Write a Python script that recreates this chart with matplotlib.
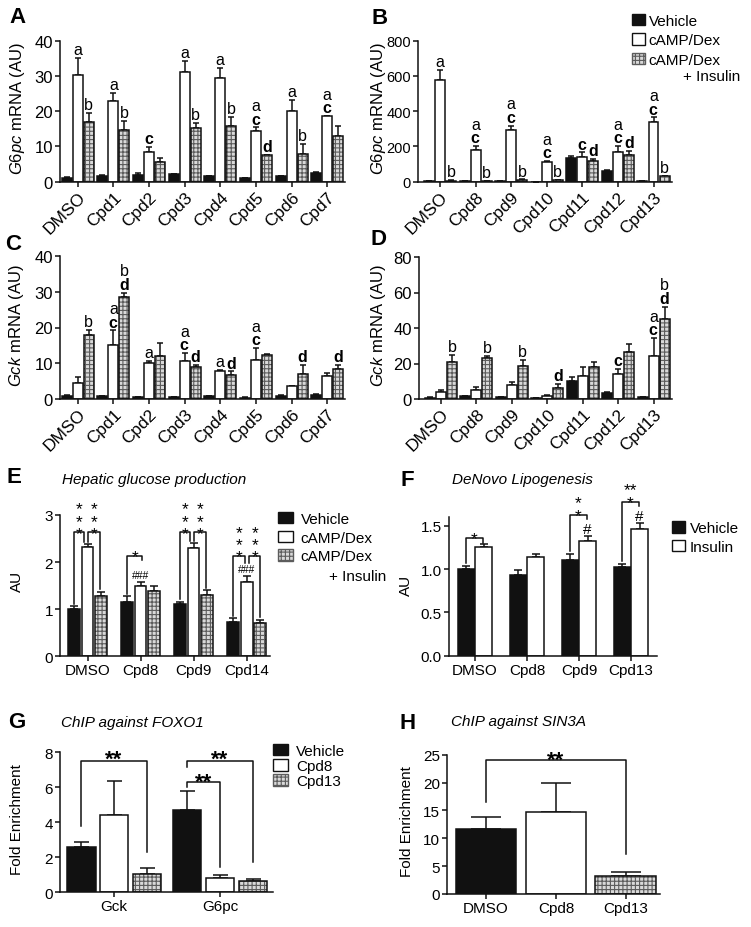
import matplotlib
matplotlib.use("Agg")
import matplotlib.pyplot as plt
from matplotlib import font_manager
from matplotlib.patches import Patch
import numpy as np

W, H = 751, 928

plt.rcParams["font.family"] = ["Liberation Sans", "DejaVu Sans"]
plt.rcParams["mathtext.fontset"] = "custom"
plt.rcParams["mathtext.it"] = "Liberation Sans:italic"
plt.rcParams["mathtext.rm"] = "Liberation Sans"
plt.rcParams["mathtext.bf"] = "Liberation Sans:bold"
plt.rcParams["hatch.linewidth"] = 0.8

_names = {f.name for f in font_manager.fontManager.ttflist}
HASH_FONT = "Liberation Sans Narrow" if "Liberation Sans Narrow" in _names else "Liberation Sans"

INK = "#111111"
CHK_FACE = "#d9d9d9"
CHK_LINE = "#5c5c5c"
CHK_HATCH = "++++"
LW = 1.1

# ---------------- data ----------------
A_groups = ["DMSO", "Cpd1", "Cpd2", "Cpd3", "Cpd4", "Cpd5", "Cpd6", "Cpd7"]
A_veh = [1.0, 1.7, 1.9, 2.1, 1.5, 1.0, 1.5, 2.6]
A_veh_err = [0.2, 0.2, 0.6, 0.1, 0.2, 0.1, 0.2, 0.2]
A_camp = [30.3, 23.0, 8.3, 31.0, 29.5, 14.4, 20.0, 18.5]
A_camp_err = [4.7, 2.1, 1.6, 3.3, 2.7, 1.0, 3.3, 0.2]
A_ins = [17.0, 14.8, 5.5, 15.1, 15.7, 7.6, 7.9, 13.1]
A_ins_err = [2.4, 2.5, 1.2, 1.5, 2.6, 0.1, 2.8, 2.8]
A_camp_sig = ["a", "a", "c", "a", "a", "ac", "a", "ac"]
A_ins_sig = ["b", "b", "", "b", "b", "d", "b", ""]

B_groups = ["DMSO", "Cpd8", "Cpd9", "Cpd10", "Cpd11", "Cpd12", "Cpd13"]
B_veh = [2, 2, 2, 1, 132, 62, 5]
B_veh_err = [0, 0, 0, 0, 11, 3, 1]
B_camp = [577, 180, 295, 110, 138, 170, 337]
B_camp_err = [58, 24, 23, 9, 28, 34, 28]
B_ins = [6, 5, 11, 9, 119, 153, 30]
B_ins_err = [2, 1, 2, 2, 9, 23, 4]
B_camp_sig = ["a", "ac", "ac", "ac", "c", "ac", "ac"]
B_ins_sig = ["b", "b", "b", "b", "d", "d", "b"]

C_groups = A_groups
C_veh = [0.93, 0.75, 0.45, 0.55, 0.7, 0.4, 0.9, 1.1]
C_veh_err = [0.15, 0.15, 0.05, 0.05, 0.05, 0.05, 0.2, 0.3]
C_camp = [4.4, 15.2, 10.0, 10.7, 7.8, 11.0, 3.6, 6.3]
C_camp_err = [1.7, 4.0, 0.6, 2.1, 0.4, 3.3, 0.1, 1.0]
C_ins = [17.9, 28.5, 12.0, 8.9, 6.8, 12.3, 7.0, 8.4]
C_ins_err = [1.4, 1.2, 3.6, 0.7, 0.9, 0.3, 2.5, 1.2]
C_camp_sig = ["", "ac", "a", "ac", "a", "ac", "", ""]
C_ins_sig = ["b", "bd", "", "d", "d", "", "d", "d"]

D_groups = B_groups
D_veh = [0.75, 1.5, 0.9, 0.3, 10.4, 3.2, 1.1]
D_veh_err = [0.2, 0.3, 0.2, 0.1, 2.2, 0.9, 0.3]
D_camp = [3.8, 5.3, 7.9, 1.9, 13.2, 14.1, 24.5]
D_camp_err = [1.3, 1.3, 1.9, 0.5, 4.7, 2.8, 9.8]
D_ins = [21.1, 23.3, 18.4, 6.2, 17.9, 26.7, 44.8]
D_ins_err = [3.7, 1.0, 3.4, 2.1, 3.2, 4.4, 7.0]
D_camp_sig = ["", "", "", "", "", "c", "ac"]
D_ins_sig = ["b", "b", "b", "d", "", "", "bd"]

E_groups = ["DMSO", "Cpd8", "Cpd9", "Cpd14"]
E_veh = [1.0, 1.15, 1.11, 0.73]
E_veh_err = [0.06, 0.12, 0.05, 0.08]
E_camp = [2.32, 1.50, 2.29, 1.58]
E_camp_err = [0.06, 0.08, 0.12, 0.12]
E_ins = [1.29, 1.38, 1.31, 0.70]
E_ins_err = [0.07, 0.12, 0.09, 0.08]

F_groups = ["DMSO", "Cpd8", "Cpd9", "Cpd13"]
F_veh = [1.0, 0.93, 1.11, 1.03]
F_veh_err = [0.04, 0.06, 0.07, 0.03]
F_ins = [1.26, 1.14, 1.33, 1.47]
F_ins_err = [0.03, 0.03, 0.05, 0.06]

G_groups = ["Gck", "G6pc"]
G_veh = [2.61, 4.72]
G_veh_err = [0.28, 1.09]
G_cpd8 = [4.42, 0.82]
G_cpd8_err = [1.96, 0.18]
G_cpd13 = [1.05, 0.63]
G_cpd13_err = [0.32, 0.13]

H_groups = ["DMSO", "Cpd8", "Cpd13"]
H_vals = [11.67, 14.8, 3.2]
H_err = [2.2, 5.2, 0.8]


def box(l, t, r, b):
    return [l / W, 1 - b / H, (r - l) / W, (b - t) / H]


def style(ax, ylim, yticks, xlim, fs=11):
    for s in ("top", "right"):
        ax.spines[s].set_visible(False)
    for s in ("left", "bottom"):
        ax.spines[s].set_linewidth(LW)
        ax.spines[s].set_color(INK)
    ax.tick_params(direction="out", length=3.6, width=LW, color=INK,
                   labelsize=fs, pad=1.5)
    ax.set_ylim(*ylim)
    ax.set_yticks(yticks)
    ax.set_xlim(*xlim)


def bars(ax, x, vals, errs, kind, width, cap):
    x = np.asarray(x, dtype=float)
    if kind == "black":
        ax.bar(x, vals, width, color=INK, edgecolor=INK, lw=LW, zorder=2)
    elif kind == "white":
        ax.bar(x, vals, width, color="white", edgecolor=INK, lw=LW, zorder=2)
    else:
        ax.bar(x, vals, width, color=CHK_FACE, edgecolor=CHK_LINE,
               hatch=CHK_HATCH, lw=0, zorder=2)
        ax.bar(x, vals, width, fill=False, edgecolor=INK, lw=LW, zorder=3)
    ax.errorbar(x, vals, yerr=[np.zeros(len(vals)), errs], fmt="none",
                ecolor=INK, elinewidth=LW, capsize=cap, capthick=LW, zorder=1)


def letters(ax, x, top, s, fs=11.5):
    # stacked significance letters; c and d are bold
    if not s:
        return
    lines = [r"$\mathbf{%s}$" % ch if ch in "cd" else ch for ch in s]
    ax.annotate("\n".join(lines), (x, top), xytext=(0, 0.6),
                textcoords="offset points", ha="center", va="bottom",
                fontsize=fs, linespacing=0.86, annotation_clip=False)


def bracket(ax, x1, x2, y, y1, y2):
    ax.plot([x1, x1, x2, x2], [y1, y, y, y2], color=INK, lw=LW,
            clip_on=False, zorder=4)


def stars(ax, x, y, text, fs, gap, ls=0.8, weight="normal"):
    # gap: distance (pt) from y to the centre of the lowest row of asterisks
    ax.annotate(text, (x, y), xytext=(0, gap - 0.8 * fs),
                textcoords="offset points", ha="center", va="bottom",
                fontsize=fs, fontweight=weight, linespacing=ls,
                annotation_clip=False)


def hashes(ax, x, y, text, fs, dy, family="Liberation Sans"):
    ax.annotate(text, (x, y), xytext=(0, dy), textcoords="offset points",
                ha="center", va="baseline", fontsize=fs, family=family,
                annotation_clip=False)


def ylabel(ax, fig, text, cx, cy, fs=11):
    ax.set_ylabel(text, fontsize=fs)
    ax.yaxis.label.set_va("center")
    ax.yaxis.set_label_coords(cx / W, 1 - cy / H, transform=fig.transFigure)


def mrna_panel(ax, groups, veh, veh_err, camp, camp_err, ins, ins_err,
               camp_sig, ins_sig, ylim, yticks, xlim, yfs):
    x = np.arange(len(groups))
    off, wd, cap = 0.31, 0.28, 2.3
    bars(ax, x - off, veh, veh_err, "black", wd, cap)
    bars(ax, x, camp, camp_err, "white", wd, cap)
    bars(ax, x + off, ins, ins_err, "checker", wd, cap)
    for i in range(len(groups)):
        letters(ax, x[i], camp[i] + camp_err[i], camp_sig[i])
        letters(ax, x[i] + off, ins[i] + ins_err[i], ins_sig[i])
    style(ax, ylim, yticks, xlim, fs=yfs)
    ax.set_xticks(x)
    ax.set_xticklabels(groups, rotation=45, ha="right", rotation_mode="anchor",
                       fontsize=12.5)


def legend(ax, fig, labels, kinds, left, top, hl=0.85, hh=0.8, ls=0.35, tp=0.25):
    handles = []
    for k in kinds:
        if k == "black":
            handles.append(Patch(facecolor=INK, edgecolor=INK, lw=1))
        elif k == "white":
            handles.append(Patch(facecolor="white", edgecolor=INK, lw=1))
        else:
            handles.append(Patch(facecolor=CHK_FACE, edgecolor=CHK_LINE,
                                 hatch=CHK_HATCH, lw=1))
    ax.legend(handles, labels, loc="upper left",
              bbox_to_anchor=(left / W, 1 - top / H),
              bbox_transform=fig.transFigure, frameon=False, fontsize=11,
              handlelength=hl, handleheight=hh, handletextpad=tp,
              labelspacing=ls, borderpad=0, borderaxespad=0)


fig = plt.figure(figsize=(W / 100, H / 100), dpi=100)

# ---------------- A ----------------
axA = fig.add_axes(box(60, 41.7, 345, 182.7))
mrna_panel(axA, A_groups, A_veh, A_veh_err, A_camp, A_camp_err, A_ins, A_ins_err,
           A_camp_sig, A_ins_sig, (0, 40), [0, 10, 20, 30, 40], (-0.5, 7.5), 12)
ylabel(axA, fig, r"$\it{G6pc}$ mRNA (AU)", 17.5, 108, fs=12)

# ---------------- B ----------------
axB = fig.add_axes(box(418, 41.7, 672, 182.7))
mrna_panel(axB, B_groups, B_veh, B_veh_err, B_camp, B_camp_err, B_ins, B_ins_err,
           B_camp_sig, B_ins_sig, (0, 800), [0, 200, 400, 600, 800], (-0.62, 6.52), 10.5)
ylabel(axB, fig, r"$\it{G6pc}$ mRNA (AU)", 379, 108, fs=12)
legend(axB, fig, ["Vehicle", "cAMP/Dex", "cAMP/Dex"],
       ["black", "white", "checker"], 632, 14.5)
fig.text(683 / W, 1 - 77 / H, "+ Insulin", fontsize=11, va="center")

# ---------------- C ----------------
axC = fig.add_axes(box(60, 257, 345, 400))
mrna_panel(axC, C_groups, C_veh, C_veh_err, C_camp, C_camp_err, C_ins, C_ins_err,
           C_camp_sig, C_ins_sig, (0, 40), [0, 10, 20, 30, 40], (-0.5, 7.5), 12)
ylabel(axC, fig, r"$\it{Gck}$ mRNA (AU)", 16.5, 326, fs=12)

# ---------------- D ----------------
axD = fig.add_axes(box(419, 258, 672, 400))
mrna_panel(axD, D_groups, D_veh, D_veh_err, D_camp, D_camp_err, D_ins, D_ins_err,
           D_camp_sig, D_ins_sig, (0, 80), [0, 20, 40, 60, 80], (-0.62, 6.52), 12)
ylabel(axD, fig, r"$\it{Gck}$ mRNA (AU)", 379, 326, fs=12)

# ---------------- E ----------------
axE = fig.add_axes(box(60, 516, 270, 657.3))
xe = np.arange(len(E_groups))
oe = 0.255
bars(axE, xe - oe, E_veh, E_veh_err, "black", 0.22, 2.8)
bars(axE, xe, E_camp, E_camp_err, "white", 0.22, 2.8)
bars(axE, xe + oe, E_ins, E_ins_err, "checker", 0.22, 2.8)
style(axE, (0, 3), [0, 1, 2, 3], (-0.52, 3.44))
axE.set_xticks(xe)
axE.set_xticklabels(E_groups)
ylabel(axE, fig, "AU", 17, 581)
veh_top = np.add(E_veh, E_veh_err)
camp_top = np.add(E_camp, E_camp_err)
ins_top = np.add(E_ins, E_ins_err)
three = "*\n*\n*"
for i in (0, 2):
    bracket(axE, i - oe, i - 0.066, 2.64, veh_top[i] + 0.05, camp_top[i] + 0.04)
    bracket(axE, i + 0.016, i + 0.235, 2.64, camp_top[i] + 0.04, ins_top[i] + 0.06)
    stars(axE, i - 0.16, 2.64, three, 12.5, 3.6, 0.76)
    stars(axE, i + 0.125, 2.64, three, 12.5, 3.6, 0.76)
bracket(axE, 1 - oe, 1 + 0.02, 2.14, veh_top[1] + 0.05, 2.04)
stars(axE, 1 - 0.1, 2.14, "*", 12.5, 3.6)
bracket(axE, 3 - 0.26, 3 - 0.03, 2.14, veh_top[3] + 0.05, 1.99)
bracket(axE, 3 + 0.05, 3 + 0.245, 2.14, 1.99, ins_top[3] + 0.06)
stars(axE, 3 - 0.145, 2.14, three, 12.5, 3.6, 0.76)
stars(axE, 3 + 0.15, 2.14, three, 12.5, 3.6, 0.76)
hfs = 8.5 if HASH_FONT != "Liberation Sans" else 7.5
hashes(axE, 1, camp_top[1], "###", hfs, 3, HASH_FONT)
hashes(axE, 3, camp_top[3], "###", hfs, 3, HASH_FONT)
legend(axE, fig, ["Vehicle", "cAMP/Dex", "cAMP/Dex"],
       ["black", "white", "checker"], 277.7, 512.8, hl=1.0, hh=0.8, ls=0.3, tp=0.5)
fig.text(329 / W, 1 - 577 / H, "+ Insulin", fontsize=11, va="center")

# ---------------- F ----------------
axF = fig.add_axes(box(449, 518.3, 657, 656.7))
xf = np.arange(len(F_groups))
of = 0.165
bars(axF, xf - of, F_veh, F_veh_err, "black", 0.32, 3.2)
bars(axF, xf + of, F_ins, F_ins_err, "white", 0.32, 3.2)
style(axF, (0, 1.6), [0, 0.5, 1.0, 1.5], (-0.5, 3.5))
axF.set_xticks(xf)
axF.set_xticklabels(F_groups)
ylabel(axF, fig, "AU", 406, 585)
fv_top = np.add(F_veh, F_veh_err)
fi_top = np.add(F_ins, F_ins_err)
for i, yb, txt in ((0, 1.357, "*"), (2, 1.627, "*\n*"), (3, 1.78, "**\n*")):
    bracket(axF, i - 0.18, i + 0.16, yb, fv_top[i] + 0.03, yb - 0.05)
    stars(axF, i - 0.01, yb, txt, 12.5, 4.2, 0.84)
for i in (2, 3):
    hashes(axF, i + of, fi_top[i], "#", 11, 2.5)
legend(axF, fig, ["Vehicle", "Insulin"], ["black", "white"], 671.7, 522,
       hl=0.85, hh=0.8, ls=0.3, tp=0.35)

# ---------------- G ----------------
axG = fig.add_axes(box(60, 753.3, 273, 893.3))
xg = np.arange(len(G_groups))
og = 0.31
bars(axG, xg - og, G_veh, G_veh_err, "black", 0.27, 5.4)
bars(axG, xg, G_cpd8, G_cpd8_err, "white", 0.27, 5.4)
bars(axG, xg + og, G_cpd13, G_cpd13_err, "checker", 0.27, 5.4)
style(axG, (0, 8), [0, 2, 4, 6, 8], (-0.51, 1.5))
axG.set_xticks(xg)
axG.set_xticklabels(G_groups)
ylabel(axG, fig, "Fold Enrichment", 16.7, 820)
bracket(axG, -og, og, 7.52, 3.8, 2.29)
stars(axG, 0, 7.52, "**", 16, 6.0, weight="bold")
bracket(axG, 1 - og, 1 + og, 7.52, 7.15, 1.71)
stars(axG, 1, 7.52, "**", 16, 6.0, weight="bold")
bracket(axG, 1 - og, 1.0, 6.29, 6.0, 1.43)
stars(axG, 1 - 0.155, 6.29, "**", 16, 5.3, weight="bold")
legend(axG, fig, ["Vehicle", "Cpd8", "Cpd13"], ["black", "white", "checker"],
       273, 744.5, hl=1.0, hh=0.8, ls=0.08, tp=0.5)

# ---------------- H ----------------
axH = fig.add_axes(box(447, 755.7, 660, 895))
for i, kind in enumerate(["black", "white", "checker"]):
    bars(axH, [i], [H_vals[i]], [H_err[i]], kind, 0.87, 11)
style(axH, (0, 25), [0, 5, 10, 15, 20, 25], (-0.56, 2.49))
axH.set_xticks(range(len(H_groups)))
axH.set_xticklabels(H_groups)
ylabel(axH, fig, "Fold Enrichment", 407.5, 821.5)
bracket(axH, 0, 2, 24.06, 16.5, 7.2)
stars(axH, 1, 24.06, "**", 16, 5.0, weight="bold")

# ---------------- titles & panel letters ----------------
for txt, px, py in (("Hepatic glucose production", 62, 480),
                    ("DeNovo Lipogenesis", 452, 480),
                    ("ChIP against FOXO1", 61, 723),
                    ("ChIP against SIN3A", 451, 722)):
    fig.text(px / W, 1 - py / H, txt, style="italic", fontsize=11, va="center")

for lab, px, py in (("A", 17, 17.5), ("B", 380, 18), ("C", 13, 245),
                    ("D", 379, 240), ("E", 14, 478), ("F", 407, 480),
                    ("G", 17, 723), ("H", 408, 724)):
    fig.text(px / W, 1 - py / H, lab, fontsize=16, fontweight="bold",
             ha="center", va="center")

fig.savefig("out.png", dpi=100)
